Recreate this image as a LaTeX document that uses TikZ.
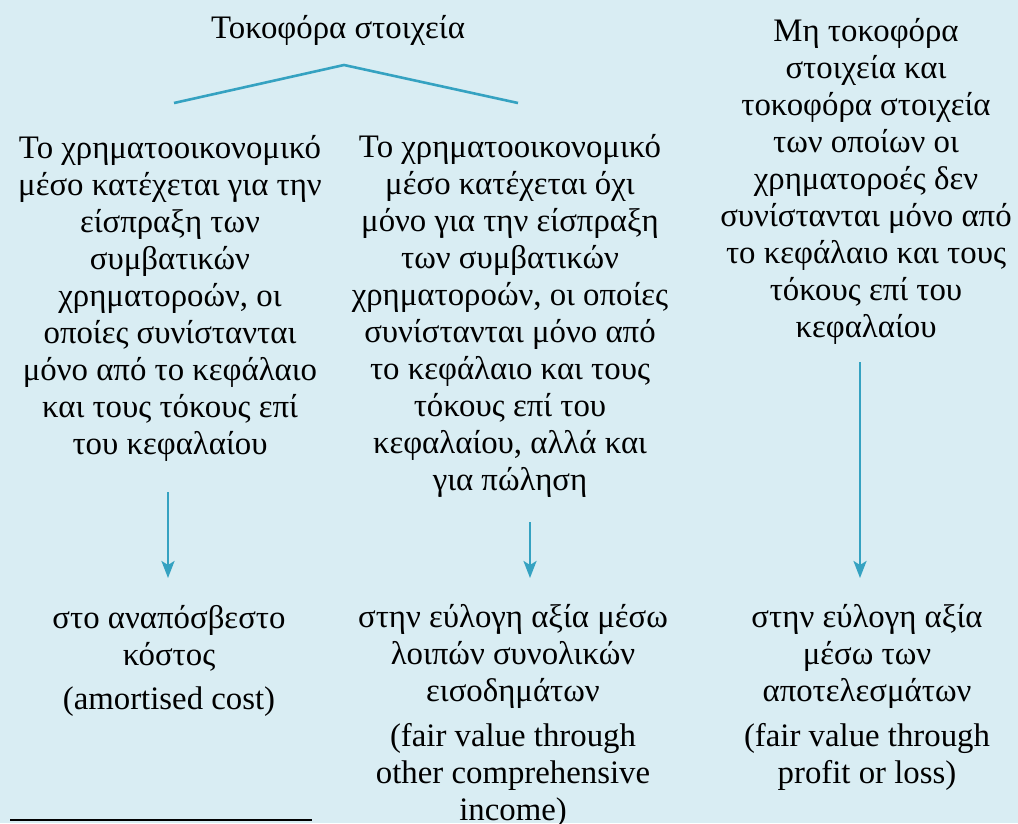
\documentclass[tikz,border=0pt]{standalone}
\usepackage{fontspec}
\setmainfont{Liberation Serif}
\usetikzlibrary{arrows.meta}
\definecolor{bgc}{HTML}{D9EDF3}
\definecolor{teal}{HTML}{35A2C1}
\begin{document}
\begin{tikzpicture}[x=1pt,y=-1pt,
  txt/.style={align=center,inner sep=0pt,font=\fontsize{32.8}{37}\selectfont},
  conn/.style={draw=teal,line width=2.6pt},
  arr/.style={conn,-{Stealth[length=17pt,width=13pt,inset=4pt]}}]
\useasboundingbox (0,0) rectangle (1018,823);
\fill[bgc] (0,0) rectangle (1018,823);
\node[txt] (title) at (338,30) {Τοκοφόρα στοιχεία};
\coordinate (chl) at (174,103);
\coordinate (chtop) at (344,65);
\coordinate (chr) at (518,103);
\draw[conn] (chl) -- (chtop) -- (chr);
\node[txt] (c1) at (170,298) {Το χρηματοοικονομικό\\μέσο κατέχεται για την\\είσπραξη των\\συμβατικών\\χρηματοροών, οι\\οποίες συνίστανται\\μόνο από το κεφάλαιο\\και τους τόκους επί\\του κεφαλαίου};
\node[txt] (c2) at (510,316) {Το χρηματοοικονομικό\\μέσο κατέχεται όχι\\μόνο για την είσπραξη\\των συμβατικών\\χρηματοροών, οι οποίες\\συνίστανται μόνο από\\το κεφάλαιο και τους\\τόκους επί του\\κεφαλαίου, αλλά και\\για πώληση};
\node[txt] (c3) at (866,181) {Μη τοκοφόρα\\στοιχεία και\\τοκοφόρα στοιχεία\\των οποίων οι\\χρηματοροές δεν\\συνίστανται μόνο από\\το κεφάλαιο και τους\\τόκους επί του\\κεφαλαίου};
\node[txt] (b1) at (169,638) {στο αναπόσβεστο\\κόστος};
\node[txt] (e1) at (169,702) {(amortised cost)};
\node[txt] (b2) at (513,656) {στην εύλογη αξία μέσω\\λοιπών συνολικών\\εισοδημάτων};
\node[txt] (e2) at (513,775) {(fair value through\\other comprehensive\\income)};
\node[txt] (b3) at (867,656) {στην εύλογη αξία\\μέσω των\\αποτελεσμάτων};
\node[txt] (e3) at (867,757) {(fair value through\\profit or loss)};
\coordinate (a1) at (168,492);
\coordinate (a2) at (530,522);
\coordinate (a3) at (860,362);
\coordinate (t1) at (168,578);
\coordinate (t2) at (530,578);
\coordinate (t3) at (860,578);
\draw[arr] (a1) -- (t1);
\draw[arr] (a2) -- (t2);
\draw[arr] (a3) -- (t3);
\coordinate (fl) at (10,820);
\coordinate (fr) at (312,820);
\draw[line width=2pt,black] (fl) -- (fr);
\end{tikzpicture}
\end{document}
